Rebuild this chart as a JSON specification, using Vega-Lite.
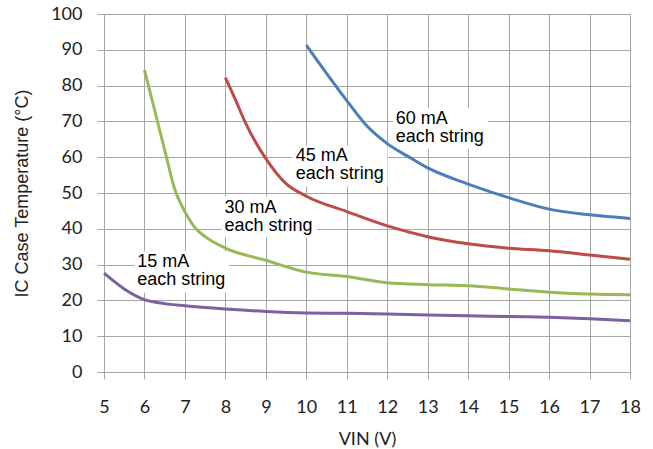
{
  "$schema": "https://vega.github.io/schema/vega-lite/v6.json",
  "width": 526,
  "height": 358,
  "autosize": {"type": "none"},
  "padding": {"left": 104, "top": 14, "right": 23, "bottom": 77},
  "background": "white",
  "config": {
    "view": {"stroke": null},
    "axis": {
      "grid": true,
      "gridColor": "#a6a6a6",
      "gridWidth": 1,
      "domainColor": "#a6a6a6",
      "tickColor": "#a6a6a6",
      "tickSize": 7,
      "labelFont": "Lato",
      "labelFontSize": 18,
      "labelColor": "#222222",
      "labelOverlap": false,
      "titleColor": "#222222",
      "titleFontWeight": "normal"
    }
  },
  "datasets": {
    "curves": [
      {"series": "60 mA", "vin": 10, "temp": 91.3},
      {"series": "60 mA", "vin": 10.5, "temp": 83.4},
      {"series": "60 mA", "vin": 11, "temp": 75.8},
      {"series": "60 mA", "vin": 11.5, "temp": 68.7},
      {"series": "60 mA", "vin": 12, "temp": 63.8},
      {"series": "60 mA", "vin": 12.5, "temp": 60.3},
      {"series": "60 mA", "vin": 13, "temp": 57.0},
      {"series": "60 mA", "vin": 14, "temp": 52.5},
      {"series": "60 mA", "vin": 15, "temp": 48.7},
      {"series": "60 mA", "vin": 16, "temp": 45.5},
      {"series": "60 mA", "vin": 17, "temp": 43.9},
      {"series": "60 mA", "vin": 18, "temp": 42.9},
      {"series": "45 mA", "vin": 8, "temp": 82.2},
      {"series": "45 mA", "vin": 8.25, "temp": 76.0},
      {"series": "45 mA", "vin": 8.5, "temp": 69.5},
      {"series": "45 mA", "vin": 9, "temp": 59.6},
      {"series": "45 mA", "vin": 9.5, "temp": 52.6},
      {"series": "45 mA", "vin": 10, "temp": 49.1},
      {"series": "45 mA", "vin": 11, "temp": 44.8},
      {"series": "45 mA", "vin": 12, "temp": 40.8},
      {"series": "45 mA", "vin": 13, "temp": 37.8},
      {"series": "45 mA", "vin": 14, "temp": 35.8},
      {"series": "45 mA", "vin": 15, "temp": 34.6},
      {"series": "45 mA", "vin": 16, "temp": 33.9},
      {"series": "45 mA", "vin": 17, "temp": 32.7},
      {"series": "45 mA", "vin": 18, "temp": 31.5},
      {"series": "30 mA", "vin": 6, "temp": 84.3},
      {"series": "30 mA", "vin": 6.25, "temp": 73.2},
      {"series": "30 mA", "vin": 6.5, "temp": 62.0},
      {"series": "30 mA", "vin": 6.75, "temp": 51.0},
      {"series": "30 mA", "vin": 7, "temp": 44.8},
      {"series": "30 mA", "vin": 7.25, "temp": 40.3},
      {"series": "30 mA", "vin": 7.5, "temp": 37.8},
      {"series": "30 mA", "vin": 8, "temp": 34.6},
      {"series": "30 mA", "vin": 9, "temp": 31.2},
      {"series": "30 mA", "vin": 10, "temp": 27.9},
      {"series": "30 mA", "vin": 11, "temp": 26.7},
      {"series": "30 mA", "vin": 12, "temp": 24.9},
      {"series": "30 mA", "vin": 13, "temp": 24.4},
      {"series": "30 mA", "vin": 14, "temp": 24.1},
      {"series": "30 mA", "vin": 15, "temp": 23.2},
      {"series": "30 mA", "vin": 16, "temp": 22.3},
      {"series": "30 mA", "vin": 17, "temp": 21.8},
      {"series": "30 mA", "vin": 18, "temp": 21.6},
      {"series": "15 mA", "vin": 5, "temp": 27.6},
      {"series": "15 mA", "vin": 5.5, "temp": 23.2},
      {"series": "15 mA", "vin": 6, "temp": 20.2},
      {"series": "15 mA", "vin": 6.5, "temp": 19.1},
      {"series": "15 mA", "vin": 7, "temp": 18.5},
      {"series": "15 mA", "vin": 8, "temp": 17.6},
      {"series": "15 mA", "vin": 9, "temp": 16.9},
      {"series": "15 mA", "vin": 10, "temp": 16.5},
      {"series": "15 mA", "vin": 11, "temp": 16.4},
      {"series": "15 mA", "vin": 12, "temp": 16.2},
      {"series": "15 mA", "vin": 13, "temp": 15.9},
      {"series": "15 mA", "vin": 14, "temp": 15.7},
      {"series": "15 mA", "vin": 15, "temp": 15.5},
      {"series": "15 mA", "vin": 16, "temp": 15.3},
      {"series": "15 mA", "vin": 17, "temp": 14.9},
      {"series": "15 mA", "vin": 18, "temp": 14.3}
    ],
    "labels": [
      {"text": ["60 mA", "each string"], "vin": 12.21, "temp": 69.2, "vin2": 12.14, "vinEnd": 14.49, "tempTop": 73.7, "tempBottom": 62.2},
      {"text": ["45 mA", "each string"], "vin": 9.74, "temp": 58.8, "vin2": 9.66, "vinEnd": 12.01, "tempTop": 63.2, "tempBottom": 51.8},
      {"text": ["30 mA", "each string"], "vin": 7.98, "temp": 44.5, "vin2": 7.91, "vinEnd": 10.26, "tempTop": 49.0, "tempBottom": 37.6},
      {"text": ["15 mA", "each string"], "vin": 5.82, "temp": 29.2, "vin2": 5.75, "vinEnd": 8.1, "tempTop": 33.7, "tempBottom": 22.2}
    ]
  },
  "encoding": {
    "x": {
      "field": "vin",
      "type": "quantitative",
      "scale": {"domain": [5, 18], "nice": false, "zero": false},
      "axis": {
        "values": [5, 6, 7, 8, 9, 10, 11, 12, 13, 14, 15, 16, 17, 18],
        "labelPadding": 19,
        "labelFlush": false,
        "title": "VIN (V)",
        "titleFont": "Lato",
        "titleFontSize": 18,
        "titleY": 58,
        "titleBaseline": "top"
      }
    },
    "y": {
      "field": "temp",
      "type": "quantitative",
      "scale": {"domain": [0, 100], "nice": false},
      "axis": {
        "values": [0, 10, 20, 30, 40, 50, 60, 70, 80, 90, 100],
        "labelPadding": 15,
        "labelFlush": false,
        "title": "IC Case Temperature (°C)",
        "titleFont": "Liberation Sans",
        "titleFontSize": 18,
        "titleAngle": -90,
        "titleX": -82,
        "titleY": 179,
        "titleAlign": "center",
        "titleBaseline": "middle"
      }
    }
  },
  "layer": [
    {
      "data": {"name": "labels"},
      "mark": {"type": "rect", "fill": "white"},
      "encoding": {
        "x": {"field": "vin2", "type": "quantitative"},
        "x2": {"field": "vinEnd"},
        "y": {"field": "tempTop", "type": "quantitative"},
        "y2": {"field": "tempBottom"}
      }
    },
    {
      "data": {"name": "curves"},
      "mark": {"type": "line", "strokeWidth": 3, "interpolate": "monotone"},
      "encoding": {
        "color": {
          "field": "series",
          "type": "nominal",
          "scale": {
            "domain": ["60 mA", "45 mA", "30 mA", "15 mA"],
            "range": ["#4A7EBB", "#BE4B48", "#98B954", "#7D60A0"]
          },
          "legend": null
        }
      }
    },
    {
      "data": {"name": "labels"},
      "mark": {"type": "text", "align": "left", "baseline": "alphabetic", "font": "Liberation Sans", "fontSize": 18, "lineHeight": 18, "color": "#000000"},
      "encoding": {
        "text": {"field": "text"}
      }
    }
  ]
}
